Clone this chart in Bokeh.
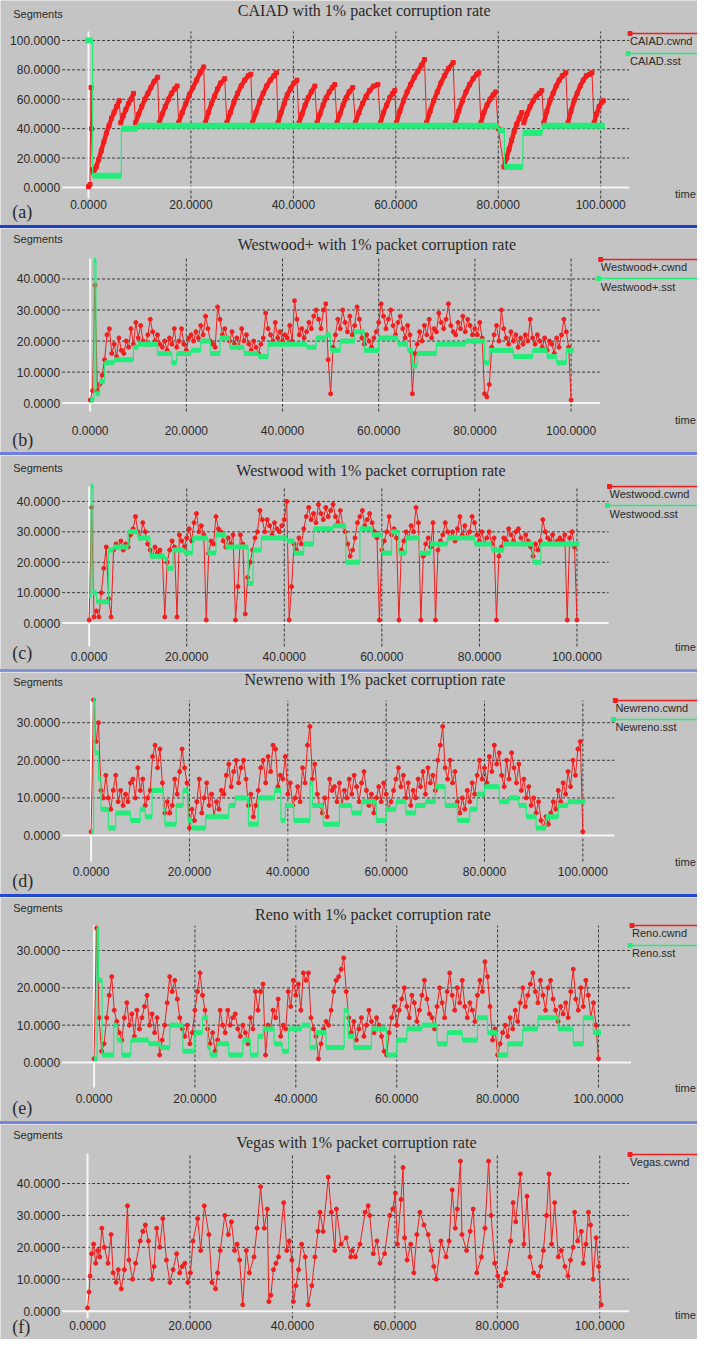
import numpy as np
from bokeh.plotting import figure
from bokeh.models import FixedTicker, NumeralTickFormatter, Label, Div, Range1d
from bokeh.layouts import column
from bokeh.embed import file_html
from bokeh.resources import INLINE

# ---------------- DATA ----------------
X_TICKS = [0, 20, 40, 60, 80, 100]
Y_TICKS_A = [0, 20, 40, 60, 80, 100]
Y_TICKS_BCF = [0, 10, 20, 30, 40]
Y_TICKS_DE = [0, 10, 20, 30]

# (a) CAIAD congestion window (time, segments)
CAIAD_T = [0, 0.3, 0.5, 0.6, 0.8, 1.0, 1.5, 2, 2.5, 3, 3.5, 4, 4.5, 5, 5.5, 6,
           6.3, 6.8, 7.3, 7.8, 8.3, 8.8,
           9.2, 9.8, 10.4, 11, 11.6, 12.2, 12.8, 13.5,
           13.8, 14.4, 15, 15.6, 16.2, 16.8, 17.3,
           17.6, 18.3, 19, 19.7, 20.4, 21.1, 21.8, 22.5,
           22.8, 23.4, 24, 24.6, 25.2, 25.8, 26.6,
           27, 27.7, 28.4, 29.1, 29.8, 30.5, 31.2, 31.7,
           32, 32.7, 33.4, 34.1, 34.8, 35.5, 36.2, 36.7,
           37, 37.6, 38.2, 38.8, 39.4, 40.1, 40.7,
           41.1, 41.7, 42.3, 42.9, 43.5, 44.2,
           44.6, 45.2, 45.8, 46.4, 47, 47.6, 48.1,
           48.5, 49.1, 49.7, 50.3, 50.9, 51.6,
           52.1, 52.8, 53.5, 54.2, 54.9, 55.7, 56.5,
           57, 57.6, 58.2, 58.8, 59.4, 59.8,
           60.1, 60.8, 61.5, 62.2, 62.9, 63.6, 64.3, 65, 65.6,
           66, 66.7, 67.4, 68.1, 68.8, 69.5, 70.3, 71.2,
           71.6, 72.3, 73, 73.7, 74.4, 75.1, 75.8, 76.2,
           76.6, 77.2, 77.8, 78.4, 79, 79.5,
           80, 81.1, 81.6, 82.1, 82.6, 83.1, 83.6, 84.1, 84.6,
           85, 85.6, 86.2, 86.8, 87.4, 88, 88.5,
           88.9, 89.5, 90.1, 90.7, 91.3, 91.9, 92.5, 93.2,
           93.6, 94.2, 94.8, 95.4, 96, 96.6, 97.2, 97.8, 98.3,
           98.7, 99.2, 99.7, 100.2, 100.5]
CAIAD_CWND = [0.5, 2, 68, 40, 12, 10, 14, 19, 25, 31, 37, 42, 47, 51, 55, 59,
              44, 49, 53, 57, 60, 64,
              44, 50, 55, 60, 64, 68, 72, 75,
              44, 50, 55, 60, 64, 67, 69,
              44, 51, 57, 63, 68, 73, 78, 82,
              44, 51, 57, 62, 67, 71, 74,
              44, 51, 58, 64, 69, 73, 76, 77,
              44, 51, 58, 64, 69, 73, 76, 78,
              44, 51, 57, 63, 67, 71, 73,
              44, 50, 56, 61, 65, 69,
              44, 50, 56, 61, 65, 68, 70,
              44, 50, 56, 61, 65, 68,
              44, 51, 57, 62, 66, 69, 70,
              44, 51, 56, 61, 64, 66,
              44, 52, 59, 65, 70, 75, 79, 83, 87,
              44, 52, 59, 65, 71, 76, 81, 85,
              44, 52, 59, 65, 70, 74, 77, 78,
              44, 51, 56, 60, 63, 65,
              40, 14, 20, 26, 32, 38, 43, 47, 51,
              44, 50, 55, 59, 62, 64, 66,
              44, 52, 59, 64, 69, 73, 76, 78,
              44, 52, 59, 64, 69, 73, 76, 77, 78,
              44, 50, 55, 58, 59]
# slow-start threshold as steps: (start time, value)
CAIAD_SST_T = [-0.6, 0.8, 6.4, 9.5, 80, 81.2, 84.8, 88.6]
CAIAD_SST_V = [100, 8, 40, 42, 39, 14, 37, 42]
CAIAD_SST_END = 100.8

# sampling interval of panels (b)-(e) cwnd traces
SAMPLE_DT = 0.5

WESTWOODP_CWND = [1, 4, 38, 4, 6, 9, 14, 22, 24, 16,
                  19, 15, 21, 17, 16, 20, 18, 24, 19, 26,
                  21, 25, 20, 19, 22, 27, 23, 20, 22, 19,
                  18, 20, 17, 21, 19, 24, 18, 20, 24, 19,
                  17, 21, 22, 20, 23, 21, 25, 22, 28, 24,
                  20, 19, 18, 31, 27, 22, 24, 21, 20, 23,
                  19, 21, 18, 24, 20, 22, 19, 17, 20, 18,
                  16, 19, 21, 29, 24, 22, 20, 26, 21, 23,
                  20, 22, 21, 25, 20, 33, 27, 22, 24, 21,
                  23, 26, 24, 28, 30, 27, 24, 30, 32, 14,
                  3, 18, 22, 27, 24, 30, 26, 23, 28, 22,
                  25, 31, 27, 21, 19, 22, 20, 18, 21, 23,
                  26, 32, 28, 24, 27, 30, 25, 22, 26, 28,
                  24, 21, 25, 22, 3, 16, 19, 23, 20, 25,
                  22, 27, 21, 24, 23, 29, 26, 24, 27, 32,
                  25, 23, 22, 26, 24, 28, 23, 27, 25, 22,
                  24, 22, 26, 21, 3, 2, 6, 18, 22, 25,
                  20, 30, 24, 21, 19, 23, 20, 22, 18, 21,
                  19, 22, 20, 27, 21, 19, 22, 20, 18, 21,
                  17, 20, 19, 16, 21, 18, 22, 27, 23, 18,
                  1]
WESTWOODP_SST_T = [0, 0.8, 1.2, 2, 3, 5, 9, 10, 14, 17, 18, 21, 23, 25, 27, 29, 32, 35, 37,
                   45, 47, 49, 50, 52, 55, 57, 60, 64, 66, 67, 68, 72, 78, 82, 83, 88, 92,
                   95, 97, 99]
WESTWOODP_SST_V = [1, 46, 3, 7, 13, 14, 18, 19, 16, 13, 16, 17, 20, 16, 21, 18, 16, 15, 19,
                   18, 21, 22, 17, 20, 23, 17, 21, 19, 17, 12, 16, 19, 20, 13, 17, 15, 17,
                   15, 13, 17]
WESTWOODP_SST_END = 100.5

WESTWOOD_CWND = [1, 38, 2, 4, 2, 10, 18, 25, 8, 2,
                 24, 26, 25, 27, 24, 26, 25, 29, 31, 35,
                 30, 28, 33, 30, 26, 24, 22, 25, 23, 24,
                 22, 2, 20, 24, 27, 25, 2, 29, 27, 25,
                 28, 31, 27, 33, 36, 30, 32, 29, 1, 23,
                 27, 26, 35, 31, 30, 27, 25, 28, 26, 29,
                 1, 12, 29, 26, 3, 15, 20, 24, 28, 30,
                 37, 34, 30, 34, 32, 29, 33, 31, 30, 32,
                 34, 40, 1, 12, 26, 24, 28, 26, 31, 35,
                 38, 34, 36, 33, 39, 36, 34, 38, 35, 37,
                 39, 35, 33, 37, 32, 30, 26, 22, 24, 28,
                 33, 35, 37, 32, 34, 36, 33, 30, 28, 1,
                 24, 27, 30, 35, 29, 31, 28, 1, 24, 27,
                 30, 28, 32, 30, 38, 33, 1, 22, 26, 28,
                 25, 33, 1, 24, 27, 29, 33, 30, 28, 30,
                 27, 31, 35, 29, 32, 28, 30, 35, 33, 29,
                 27, 30, 26, 28, 30, 26, 28, 1, 22, 25,
                 28, 27, 31, 29, 27, 30, 31, 28, 26, 29,
                 27, 25, 22, 26, 24, 27, 34, 30, 28, 27,
                 29, 26, 27, 28, 27, 29, 1, 28, 30, 25,
                 1]
WESTWOOD_SST_T = [0, 0.4, 0.8, 1.5, 4, 5, 8, 10, 12.5, 15.5, 16, 17.2, 19.5, 21.2, 24.3, 26,
                  28, 32.6, 33.6, 35.3, 40.6, 42, 44, 46, 50, 52.6, 55.5, 58, 60, 62, 63.5,
                  65, 67.7, 70, 73.5, 79, 82.5, 85, 91, 92.6]
WESTWOOD_SST_V = [9, 45, 10, 7, 24, 25, 30, 28, 22, 21, 18, 24, 23, 28, 23, 29,
                  25, 13, 24, 28, 27, 23, 26, 31, 32, 20, 31, 29, 23, 30, 23,
                  28, 23, 26, 28, 26, 24, 26, 20, 26]
WESTWOOD_SST_END = 100.5

NEWRENO_CWND = [1, 36, 25, 30, 12, 10, 16, 10, 7, 12,
                16, 9, 12, 8, 11, 9, 14, 15, 10, 18,
                12, 15, 8, 10, 12, 21, 24, 18, 23, 14,
                6, 9, 6, 8, 15, 11, 17, 23, 18, 14,
                2, 7, 4, 9, 15, 6, 10, 14, 8, 11,
                5, 9, 7, 12, 11, 16, 19, 13, 17, 20,
                14, 18, 20, 15, 8, 11, 5, 8, 12, 18,
                20, 14, 21, 17, 24, 23, 13, 16, 15, 21,
                11, 14, 8, 10, 13, 9, 18, 14, 24, 29,
                15, 19, 11, 8, 6, 10, 5, 15, 12, 13,
                9, 14, 8, 12, 10, 15, 11, 16, 13, 9,
                14, 17, 12, 8, 11, 6, 10, 13, 9, 14,
                11, 7, 9, 12, 15, 18, 13, 16, 10, 14,
                8, 12, 10, 15, 13, 17, 11, 18, 14, 16,
                12, 20, 24, 29, 18, 15, 20, 14, 17, 9,
                6, 10, 7, 12, 9, 14, 11, 16, 20, 15,
                18, 14, 21, 17, 24, 19, 22, 16, 13, 20,
                15, 22, 18, 14, 19, 12, 15, 10, 13, 8,
                10, 6, 9, 4, 2, 5, 3, 6, 9, 7,
                12, 9, 14, 11, 17, 13, 20, 16, 23, 25,
                1]
NEWRENO_SST_T = [0, 0.5, 0.8, 1.5, 2, 3.5, 5, 8, 10, 11, 12.4, 14.7, 15, 17.3, 18.7, 19.7,
                 20.5, 23.3, 28, 29.3, 32, 34, 37.3, 38.6, 39.5, 41.2, 44.5, 45, 47.2, 50.5,
                 53, 55, 58, 60, 62, 64, 66, 68, 70, 72, 74.5, 77, 78.5, 80, 83, 85, 87,
                 88.5, 90.5, 92.5, 95, 97]
NEWRENO_SST_V = [1, 36, 22, 15, 7, 2, 6, 4, 7, 5, 12, 7, 3, 8, 12, 4,
                 2, 5, 8, 10, 3, 10, 12, 4, 8, 4, 14, 8, 3, 8,
                 6, 9, 4, 7, 9, 6, 8, 9, 13, 8, 4, 7, 11, 13, 9, 10, 8,
                 5, 2, 5, 8, 9]
NEWRENO_SST_END = 100.5

RENO_CWND = [1, 36, 12, 3, 5, 12, 18, 23, 14, 11,
             8, 6, 12, 16, 10, 13, 7, 14, 9, 12,
             15, 18, 10, 13, 8, 12, 2, 6, 10, 16,
             23, 19, 22, 17, 12, 9, 7, 10, 5, 8,
             14, 19, 24, 18, 14, 9, 5, 8, 3, 6,
             14, 10, 8, 14, 10, 12, 13, 9, 7, 10,
             8, 5, 12, 9, 19, 14, 19, 21, 2, 10,
             9, 14, 12, 17, 7, 10, 9, 19, 15, 22,
             18, 21, 14, 24, 22, 24, 12, 9, 7, 1,
             5, 9, 11, 10, 14, 19, 22, 23, 25, 28,
             19, 12, 8, 11, 6, 9, 12, 7, 10, 14,
             11, 8, 12, 10, 7, 3, 2, 8, 12, 15,
             10, 14, 17, 20, 15, 12, 18, 16, 11, 14,
             18, 22, 17, 13, 12, 9, 15, 20, 16, 12,
             19, 24, 18, 14, 20, 16, 22, 15, 12, 16,
             14, 11, 18, 22, 19, 27, 23, 15, 6, 9,
             2, 5, 8, 10, 7, 12, 9, 14, 11, 16,
             20, 15, 18, 21, 24, 19, 16, 22, 18, 14,
             20, 22, 17, 14, 11, 15, 13, 16, 12, 19,
             25, 17, 14, 20, 15, 22, 18, 12, 16, 10,
             1]
RENO_SST_T = [0, 0.6, 0.9, 1.6, 3.9, 4.6, 5.5, 7.3, 10.8, 13.1, 15, 17.6, 19.9, 21.5, 22.5,
              23, 24.4, 26.7, 29.5, 31, 32.5, 33.5, 35.7, 37.3, 38.6, 41.2, 42.8, 44, 46,
              49.6, 50.4, 51.5, 55, 58, 60, 62, 65, 68, 70, 73, 76, 78, 80, 82, 85, 88,
              92, 95, 97, 99]
RENO_SST_V = [1, 36, 22, 2, 10, 6, 2, 6, 5, 4, 10, 3, 8, 12, 4,
              2, 5, 2, 6, 2, 7, 9, 5, 3, 9, 10, 4, 8, 4,
              14, 7, 4, 9, 2, 6, 9, 10, 5, 8, 6, 12, 8, 2, 5, 9, 12,
              9, 5, 12, 8]
RENO_SST_END = 100.5

VEGAS_T = [0, 0.3, 0.5, 0.8, 1.2, 1.6, 2.0, 2.4, 2.8, 3.3, 4.0, 4.6, 5.0, 5.6, 6.0, 6.6, 7.2,
           7.8, 8.1, 8.8, 9.4, 10.3, 10.8, 11.3, 11.9, 12.6, 13.0, 13.5, 14.1, 14.7, 15.4,
           16.1, 16.7, 17.4, 18.0, 18.5, 19.0, 19.6, 20.1, 20.6, 21.5, 22.1, 22.8, 23.7,
           24.3, 25.0, 25.4, 25.9, 26.8, 27.5, 28.1, 28.7, 29.2, 29.7, 30.3, 31.0, 31.6,
           32.5, 33.1, 33.8, 34.5, 35.1, 35.4, 35.8, 36.3, 36.8, 37.3, 38.3, 38.9, 39.4,
           39.9, 40.2, 40.7, 41.2, 41.8, 42.5, 43.1, 43.8, 44.4, 45.0, 45.4, 46.0, 47.0,
           47.6, 48.3, 48.6, 49.5, 50.5, 51.4, 51.7, 52.3, 53.2, 54.2, 54.8, 55.1, 55.8,
           56.5, 57.1, 58.0, 59.0, 59.6, 60.1, 60.5, 61.2, 61.6, 61.9, 62.4, 63.1, 63.7,
           64.3, 64.9, 65.7, 66.5, 67.1, 67.6, 68.1, 69.0, 70.0, 70.6, 71.2, 71.8, 72.2,
           72.8, 73.1, 74.0, 74.7, 75.3, 76.0, 76.9, 77.6, 78.3, 78.8, 79.5, 80.1, 80.7,
           81.2, 81.7, 82.6, 83.1, 83.6, 84.5, 85.2, 85.8, 86.4, 87.1, 88.0, 88.5, 89.0,
           89.6, 90.1, 90.6, 91.2, 91.9, 92.5, 93.2, 93.8, 94.3, 94.8, 95.1, 95.7, 96.4,
           96.8, 97.3, 97.8, 98.2, 98.7, 99.3, 99.8, 100.3]
VEGAS_CWND = [1, 6, 11, 18, 21, 15, 19, 17, 26, 20, 15, 24, 12, 9, 13, 7, 13,
              33, 16, 10, 15, 22, 25, 27, 22, 10, 14, 26, 20, 29, 16,
              9, 13, 18, 12, 14, 15, 9, 12, 22, 29, 19, 33, 24,
              9, 7, 12, 19, 30, 24, 28, 19, 21, 16, 2, 19, 12,
              17, 26, 39, 26, 32, 3, 5, 13, 15, 17, 34, 19, 22,
              16, 3, 8, 13, 21, 17, 2, 8, 17, 25, 31, 25, 42,
              31, 19, 32, 21, 23, 17, 19, 17, 21, 31, 33, 30, 18,
              22, 15, 18, 30, 32, 37, 21, 35, 45, 23, 16, 21, 12,
              24, 31, 27, 24, 19, 14, 10, 22, 17, 22, 38, 26, 32,
              47, 24, 19, 25, 32, 12, 17, 26, 47, 30, 15, 11, 8,
              10, 12, 22, 34, 28, 43, 21, 36, 17, 12, 11, 14, 19,
              30, 43, 21, 34, 17, 19, 14, 11, 16, 20, 31, 22, 25,
              15, 21, 31, 27, 10, 23, 14, 2]

# ---------------- STYLE ----------------
BG = "#c4c4c4"
RED = "#f21e1e"
GREEN = "#24ec7a"
GRID = "#202020"
TXT = "#2a2a2a"
W = 697


def build_panel(c):
    per_px = (c["yhi"] - c["ylo"]) / (c["bot"] - c["top"])

    def X(px):
        return (px - c["x0"]) / c["ppx"]

    def Y(rel):
        return c["yhi"] - (rel - c["top"]) * per_px

    x_lo = X(63)
    x_end = X(c["xend"])
    x_hi = X(713)
    p = figure(width=W, height=c["H"], output_backend="svg", toolbar_location=None,
               x_range=Range1d(X(0), x_hi), y_range=Range1d(Y(c["H"]), Y(0)),
               min_border=0,
               background_fill_color=BG, border_fill_color=BG, outline_line_color=None)

    for ax in (p.xaxis[0], p.yaxis[0]):
        ax.axis_line_color = None
        ax.major_tick_line_color = None
        ax.minor_tick_line_color = None
        ax.major_tick_out = 0
        ax.major_tick_in = 0
        ax.formatter = NumeralTickFormatter(format="0.0000")
        ax.major_label_text_font = "Liberation Sans"
        ax.major_label_text_font_size = "12px"
        ax.major_label_text_color = TXT
    p.xaxis.ticker = FixedTicker(ticks=X_TICKS)
    p.yaxis.ticker = FixedTicker(ticks=c["yticks"])
    p.xaxis.fixed_location = c["ylo"]
    p.yaxis.fixed_location = x_lo
    p.xaxis.major_label_standoff = c["standoff"]
    p.yaxis.major_label_standoff = 2
    p.grid.visible = False

    # dashed grid lines of the plot area
    yt = [v for v in c["yticks"] if v != 0]
    p.segment(x0=[x_lo] * len(yt), y0=yt, x1=[x_end] * len(yt), y1=yt,
              line_color=GRID, line_dash="3 2", line_width=1, line_alpha=0.85)
    xt = [v for v in X_TICKS if v != 0]
    p.segment(x0=xt, y0=[c["ylo"]] * len(xt), x1=xt, y1=[c["yhi"]] * len(xt),
              line_color=GRID, line_dash="3 2", line_width=1, line_alpha=0.85)
    # white zero lines
    p.segment(x0=[x_lo], y0=[0], x1=[x_end], y1=[0], line_color="#f6f6f6", line_width=2)
    p.segment(x0=[0], y0=[c["ylo"]], x1=[0], y1=[c["yhi"]], line_color="#f6f6f6", line_width=2)

    rt = np.asarray(c["red_t"], dtype=float)
    ry = np.asarray(c["red_y"], dtype=float)
    p.line(rt, ry, line_color=RED, line_width=1)
    if c.get("thick"):
        xs, ys = [rt[0]], [ry[0]]
        for i in range(1, len(rt)):
            d = ry[i] - ry[i - 1]
            if d <= 0 or d > 15:
                xs.append(np.nan)
                ys.append(np.nan)
            xs.append(rt[i])
            ys.append(ry[i])
        p.line(np.array(xs), np.array(ys), line_color=RED, line_width=4.5)
        p.scatter(rt, ry, size=4, color=RED, marker="square")
    else:
        p.scatter(rt, ry, size=4, color=RED, marker="circle")

    if c.get("sst_t") is not None:
        st = list(c["sst_t"])
        sv = list(c["sst_v"])
        se = st[1:] + [c["sst_end"]]
        px, py = [], []
        for a, b, v in zip(st, se, sv):
            px += [a, b]
            py += [v, v]
        p.line(px, py, line_color=GREEN, line_width=1.2)
        p.segment(x0=st, y0=sv, x1=se, y1=sv, line_color=GREEN, line_width=c["gw"])

    # legend
    leg = c["leg"]
    p.segment(x0=[X(c["xend"] + 1)], y0=[Y(leg[0])], x1=[x_hi], y1=[Y(leg[0])],
              line_color=RED, line_width=1.5)
    p.scatter([X(c["xend"] + 1)], [Y(leg[0])], size=4, color=RED, marker="square")
    p.add_layout(Label(x=X(c["xend"] + 1), y=Y(leg[1]), text=c["name"] + ".cwnd",
                       text_font="Liberation Sans", text_font_size="11px", text_color=TXT,
                       text_baseline="middle", text_align="left"))
    if c.get("sst_t") is not None:
        p.segment(x0=[X(c["xend"] - 1)], y0=[Y(leg[2])], x1=[x_hi], y1=[Y(leg[2])],
                  line_color=GREEN, line_width=1.5)
        p.scatter([X(c["xend"] - 1)], [Y(leg[2])], size=4, color=GREEN, marker="square")
        p.add_layout(Label(x=X(c["xend"] + 1), y=Y(leg[3]), text=c["name"] + ".sst",
                           text_font="Liberation Sans", text_font_size="11px", text_color=TXT,
                           text_baseline="middle", text_align="left"))

    # texts
    p.add_layout(Label(x=X(c["title_x"]), y=Y(c["title_y"]), text=c["title"],
                       text_font="Liberation Serif", text_font_size="16px", text_color=TXT,
                       text_align="center", text_baseline="middle"))
    p.add_layout(Label(x=X(13), y=Y(c["seg_y"]), text="Segments",
                       text_font="Liberation Sans", text_font_size="11px", text_color=TXT,
                       text_align="left", text_baseline="middle"))
    p.add_layout(Label(x=X(12), y=Y(c["tag_y"]), text=c["tag"],
                       text_font="Liberation Serif", text_font_size="18px", text_color=TXT,
                       text_align="left", text_baseline="middle"))
    p.add_layout(Label(x=X(690), y=Y(c["time_y"]), text="time",
                       text_font="Liberation Sans", text_font_size="11px", text_color=TXT,
                       text_align="left", text_baseline="middle"))
    return p


def grid_t(vals):
    return [i * SAMPLE_DT for i in range(len(vals))]


panels = [
    dict(H=225, top=31, bot=198, ylo=-7.5, yhi=106.1, x0=90, ppx=5.24, xend=643, standoff=1,
         yticks=Y_TICKS_A, title="CAIAD with 1% packet corruption rate", title_x=372, title_y=10,
         seg_y=13, tag="(a)", tag_y=211, time_y=193, leg=(33, 40, 53, 60), name="CAIAD",
         red_t=CAIAD_T, red_y=CAIAD_CWND, thick=True,
         sst_t=CAIAD_SST_T, sst_v=CAIAD_SST_V, sst_end=CAIAD_SST_END, gw=6),
    dict(H=224, top=30, bot=183, ylo=-2.7, yhi=46.6, x0=91.7, ppx=4.92, xend=613, standoff=14,
         yticks=Y_TICKS_BCF, title="Westwood+ with 1% packet corruption rate", title_x=385,
         title_y=16, seg_y=10, tag="(b)", tag_y=211, time_y=191, leg=(31, 38, 50, 58),
         name="Westwood+", red_t=grid_t(WESTWOODP_CWND), red_y=WESTWOODP_CWND,
         sst_t=WESTWOODP_SST_T, sst_v=WESTWOODP_SST_V, sst_end=WESTWOODP_SST_END, gw=5),
    dict(H=214, top=31, bot=191, ylo=-7.7, yhi=44.9, x0=90.7, ppx=4.99, xend=622, standoff=5,
         yticks=Y_TICKS_BCF, title="Westwood with 1% packet corruption rate", title_x=379,
         title_y=15, seg_y=12, tag="(c)", tag_y=197, time_y=191, leg=(31, 38, 50, 58),
         name="Westwood", red_t=grid_t(WESTWOOD_CWND), red_y=WESTWOOD_CWND,
         sst_t=WESTWOOD_SST_T, sst_v=WESTWOOD_SST_V, sst_end=WESTWOOD_SST_END, gw=5),
    dict(H=222, top=28, bot=189, ylo=-6.9, yhi=35.9, x0=92.7, ppx=5.03, xend=628, standoff=5,
         yticks=Y_TICKS_DE, title="Newreno with 1% packet corruption rate", title_x=383,
         title_y=7, seg_y=9, tag="(d)", tag_y=208, time_y=189, leg=(28, 35, 47, 54),
         name="Newreno", red_t=grid_t(NEWRENO_CWND), red_y=NEWRENO_CWND,
         sst_t=NEWRENO_SST_T, sst_v=NEWRENO_SST_V, sst_end=NEWRENO_SST_END, gw=5),
    dict(H=224, top=28, bot=190, ylo=-6.7, yhi=36.7, x0=95.7, ppx=5.16, xend=645, standoff=6,
         yticks=Y_TICKS_DE, title="Reno with 1% packet corruption rate", title_x=381,
         title_y=17, seg_y=10, tag="(e)", tag_y=210, time_y=190, leg=(28, 35, 48, 55),
         name="Reno", red_t=grid_t(RENO_CWND), red_y=RENO_CWND,
         sst_t=RENO_SST_T, sst_v=RENO_SST_V, sst_end=RENO_SST_END, gw=5),
    dict(H=215, top=29, bot=194, ylo=-2.3, yhi=49.4, x0=89, ppx=5.24, xend=643, standoff=2,
         yticks=Y_TICKS_BCF, title="Vegas with 1% packet corruption rate", title_x=364,
         title_y=18, seg_y=10, tag="(f)", tag_y=202, time_y=190, leg=(30, 37, 0, 0),
         name="Vegas", red_t=VEGAS_T, red_y=VEGAS_CWND, sst_t=None),
]

SEP_COLORS = ["#1a3fcf", "#6f80dc", "#8393d8", "#2249cf", "#7584dc"]

items = []
for i, c in enumerate(panels):
    items.append(build_panel(c))
    if i < len(SEP_COLORS):
        items.append(Div(text="", width=W, height=3, margin=(0, 0, 0, 0),
                         styles={"background-color": SEP_COLORS[i], "padding": "0"}))

layout = column(*items, spacing=0)
open("out.html", "w").write(file_html(layout, INLINE))
